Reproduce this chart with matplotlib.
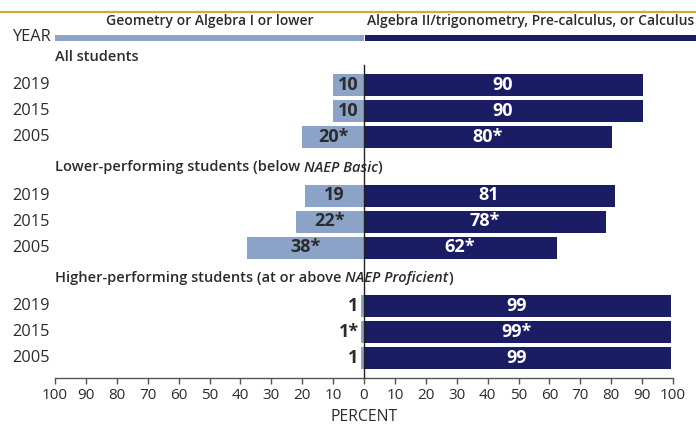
import matplotlib
matplotlib.use("Agg")
import matplotlib.pyplot as plt

# Survey data: percent of 12th graders by highest math course taken
groups = ["All students",
          "Lower-performing students (below |NAEP Basic|)",
          "Higher-performing students (at or above |NAEP Proficient|)"]
years = ["2019", "2015", "2005"]
lower_course = [[10, 10, 20], [19, 22, 38], [1, 1, 1]]
upper_course = [[90, 90, 80], [81, 78, 62], [99, 99, 99]]
lower_sig = [[False, False, True], [False, True, True], [False, True, False]]
upper_sig = [[False, False, True], [False, True, True], [False, True, False]]
categories = ["Geometry or Algebra I or lower",
              "Algebra II/trigonometry, Pre-calculus, or Calculus"]
ticks = [-100, -90, -80, -70, -60, -50, -40, -30, -20, -10, 0,
         10, 20, 30, 40, 50, 60, 70, 80, 90, 100]

LIGHT = "#8aa3c7"
DARK = "#1a1d63"
TEXT = "#2b2b2b"
FONT = "Open Sans"

W, H = 696, 424
fig = plt.figure(figsize=(W / 100, H / 100), dpi=100)
plt.rcParams["font.family"] = [FONT, "DejaVu Sans"]

x0_px, x1_px = 55, 673
ax = fig.add_axes([x0_px / W, 0, (x1_px - x0_px) / W, 1])
ax.set_xlim(-100, 100)
ax.set_ylim(H, 0)  # vertical layout in pixel rows, top to bottom
ax.axis("off")

row_start = 85
row_step = 26
group_step = 110.5
bar_h = 22
baseline_y = 378

# Gold rule across the top
fig.add_artist(plt.Line2D([0, 1], [1 - 12 / H, 1 - 12 / H], color="#d9a63c", lw=1.6))

# Category header bars and labels
x_right_edge = 100 * (W - 364.3) / 309
ax.barh(38, -100, height=6, color=LIGHT, clip_on=False)
ax.barh(38, x_right_edge, left=0.3, height=6, color=DARK, clip_on=False)
ax.text(-50, 21, categories[0], ha="center", va="center", fontsize=10,
        weight="semibold", color=TEXT)
ax.text(x_right_edge / 2 + 0.3, 21, categories[1], ha="center", va="center",
        fontsize=10, weight="semibold", color=TEXT, clip_on=False)
fig.text(12 / W, 1 - 37 / H, "YEAR", ha="left", va="center", fontsize=11.8,
         color=TEXT)

# Zero line
ax.plot([0, 0], [65, baseline_y], color="#222222", lw=1, zorder=5)

for g, name in enumerate(groups):
    top = row_start + g * group_step
    # group header with italic segments marked by |
    parts = name.split("|")
    head_y = top - 28
    prev = None
    for k, part in enumerate(parts):
        if not part:
            continue
        style = "italic" if k % 2 == 1 else "normal"
        if prev is None:
            prev = ax.text(-100, head_y, part, ha="left", va="center",
                           fontsize=10.5, weight="semibold", style=style,
                           color=TEXT)
        else:
            prev = ax.annotate(part, xy=(1, 0), xycoords=prev, ha="left",
                               va="bottom", fontsize=10.5, weight="semibold",
                               style=style, color=TEXT)
    for i, yr in enumerate(years):
        y = top + i * row_step
        lv = lower_course[g][i]
        uv = upper_course[g][i]
        ax.barh(y, -lv, height=bar_h, color=LIGHT, zorder=2)
        ax.barh(y, uv, left=0.3, height=bar_h, color=DARK, zorder=2)
        fig.text(12 / W, 1 - y / H, yr, ha="left", va="center",
                 fontsize=11.8, color=TEXT)
        ltxt = f"{lv}" + ("*" if lower_sig[g][i] else "")
        utxt = f"{uv}" + ("*" if upper_sig[g][i] else "")
        if lv >= 5:
            ax.text(-lv / 2, y, ltxt, ha="center", va="center", fontsize=13,
                    weight="bold", color=TEXT, zorder=6)
        else:
            ax.text(-lv - 0.7, y, ltxt, ha="right", va="center", fontsize=13,
                    weight="bold", color=TEXT, zorder=6)
        ax.text(uv / 2, y, utxt, ha="center", va="center", fontsize=13,
                weight="bold", color="white", zorder=6)

# Percent axis along the bottom
xax = fig.add_axes([x0_px / W, 1 - baseline_y / H, (x1_px - x0_px) / W, 1e-4])
xax.set_xlim(-100, 100)
xax.set_yticks([])
for s in ["top", "left", "right"]:
    xax.spines[s].set_visible(False)
xax.spines["bottom"].set_color("#555555")
xax.spines["bottom"].set_linewidth(1)
xax.patch.set_alpha(0)
xax.set_xticks(ticks)
xax.set_xticklabels([str(abs(t)) for t in ticks])
xax.tick_params(axis="x", length=4, width=1, color="#555555", labelsize=11,
                labelcolor=TEXT, pad=3)
fig.text(364 / W, 1 - 417 / H, "PERCENT", ha="center", va="center",
         fontsize=11.3, color=TEXT)

fig.savefig("out.png", dpi=100)
